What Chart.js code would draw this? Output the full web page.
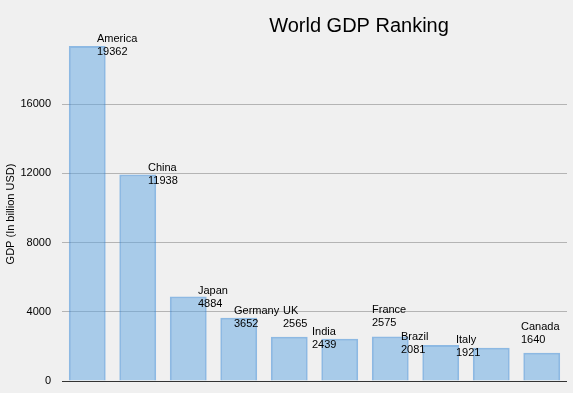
<!DOCTYPE html>
<html>
<head>
<meta charset="utf-8">
<script src="https://cdn.jsdelivr.net/npm/chart.js@4/dist/chart.umd.min.js"></script>
<style>
  html, body { margin: 0; padding: 0; background: #f0f0f0; overflow: hidden; }
  #wrap { position: relative; width: 573px; height: 393px; }
</style>
</head>
<body>
<div id="wrap"><canvas id="c" width="573" height="393"></canvas></div>
<script>
// data
const countries = ["America", "China", "Japan", "Germany", "UK", "India", "France", "Brazil", "Italy", "Canada"];
const gdp = [19362, 11938, 4884, 3652, 2565, 2439, 2575, 2081, 1921, 1640];
const yTicks = [0, 4000, 8000, 12000, 16000];
const chartTitle = "World GDP Ranking";
const yTitle = "GDP (In billion USD)";

const FONT = "'Liberation Sans', Arial, sans-serif";

// smart-label nudges (px from bar centre / bar top), as the original placed them
const LABEL_NUDGE = [
  [10, -12], [10, -11], [10, -11], [-5, -12], [-6, -31],
  [-28, -12], [-18, -31], [-40, -13], [-35, -13], [-21, -31],
];

const barLabels = {
  id: "barLabels",
  afterDatasetsDraw(chart) {
    const ctx = chart.ctx;
    const meta = chart.getDatasetMeta(0);
    const area = chart.chartArea;
    ctx.save();
    // category axis line (x scale itself is hidden)
    ctx.strokeStyle = "#333";
    ctx.lineWidth = 1;
    ctx.beginPath();
    ctx.moveTo(area.left, Math.round(area.bottom) + 0.5);
    ctx.lineTo(area.right, Math.round(area.bottom) + 0.5);
    ctx.stroke();

    ctx.font = "11px " + FONT;
    ctx.fillStyle = "#000";
    ctx.textAlign = "left";
    ctx.textBaseline = "alphabetic";
    meta.data.forEach((bar, i) => {
      const [dx, dy] = LABEL_NUDGE[i];
      const x = Math.round(bar.x + dx);
      const y = Math.round(bar.y + dy + 8);
      ctx.fillText(countries[i], x, y);
      ctx.fillText(String(gdp[i]), x, y + 13);
    });
    ctx.restore();
  },
};

const titleText = {
  id: "titleText",
  afterDraw(chart) {
    const ctx = chart.ctx;
    ctx.save();
    ctx.fillStyle = "#000";
    ctx.textAlign = "center";
    ctx.textBaseline = "alphabetic";
    ctx.font = "20px " + FONT;
    ctx.fillText(chartTitle, 359, 32);

    ctx.font = "11px " + FONT;
    ctx.textBaseline = "middle";
    ctx.translate(11, 214);
    ctx.rotate(-Math.PI / 2);
    ctx.fillText(yTitle, 0, 0);
    ctx.restore();
  },
};

new Chart(document.getElementById("c"), {
  type: "bar",
  data: {
    labels: countries,
    datasets: [{
      data: gdp,
      backgroundColor: "rgba(96,166,226,0.5)",
      borderColor: "rgba(60,140,216,0.55)",
      borderWidth: 2,
      categoryPercentage: 1,
      barPercentage: 0.73,
    }],
  },
  options: {
    responsive: false,
    animation: false,
    layout: { padding: { top: 35, right: 6, bottom: 12, left: 0 } },
    plugins: {
      legend: { display: false },
      tooltip: { enabled: false },
      title: { display: false },
    },
    scales: {
      x: { display: false },
      y: {
        min: 0,
        max: 20000,
        afterFit(s) {
          s.width = 62;
          s.paddingTop = 0;
          s.paddingBottom = 0;
        },
        afterBuildTicks(s) { s.ticks = yTicks.map((v) => ({ value: v })); },
        border: { display: false },
        grid: { color: "#b4b4b4", drawTicks: false },
        ticks: {
          padding: 11,
          color: "#000",
          font: { family: FONT, size: 11 },
          callback: (v) => String(v),
        },
      },
    },
  },
  plugins: [barLabels, titleText],
});
</script>
</body>
</html>
